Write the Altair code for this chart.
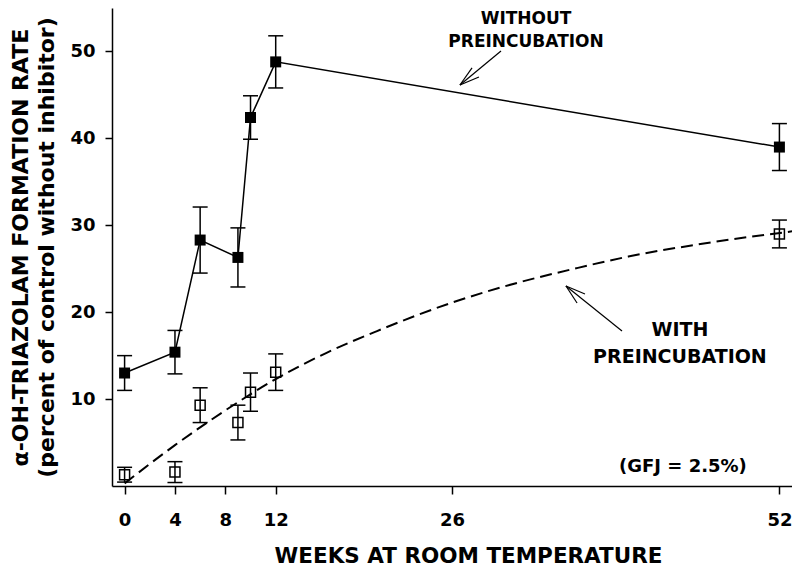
import altair as alt
import pandas as pd

# ---- data ----
weeks = [0, 4, 6, 9, 10, 12, 52]
without_mean = [13.0, 15.4, 28.3, 26.3, 42.4, 48.8, 39.0]
without_err = [2.0, 2.5, 3.8, 3.4, 2.5, 3.0, 2.7]
with_mean = [1.3, 1.6, 9.3, 7.3, 10.8, 13.1, 29.0]
with_err = [0.85, 1.2, 2.0, 2.0, 2.2, 2.1, 1.6]

# dashed fitted curve
curve_weeks = [0, 4, 8, 12, 16, 20, 26, 30, 36, 40, 46, 53]
curve_vals = [0.3, 4.7, 8.7, 12.3, 15.3, 17.8, 21.1, 22.9, 25.1, 26.4, 27.9, 29.3]

x_ticks = [0, 4, 8, 12, 26, 52]
y_ticks = [10, 20, 30, 40, 50]

# annotations (data coordinates)
label_text = ["WITHOUT", "PREINCUBATION", "WITH", "PREINCUBATION", "(GFJ = 2.5%)"]
label_wk = [31.88, 31.88, 44.10, 44.10, 44.34]
label_val = [53.7, 51.05, 17.95, 14.84, 2.19]
label_size = [17, 17, 19, 19, 18]

arrow_x1 = [29.89, 26.63, 26.63, 39.50, 35.05, 35.05]
arrow_y1 = [50.05, 46.14, 46.14, 17.83, 23.01, 23.01]
arrow_x2 = [26.63, 27.59, 28.14, 35.05, 36.56, 35.93]
arrow_y2 = [46.14, 48.10, 47.06, 23.01, 22.09, 21.06]

# ---- tables ----
df_without = pd.DataFrame({
    "wk": weeks, "v": without_mean,
    "lo": [m - e for m, e in zip(without_mean, without_err)],
    "hi": [m + e for m, e in zip(without_mean, without_err)],
})
df_with = pd.DataFrame({
    "wk": weeks, "v": with_mean,
    "lo": [m - e for m, e in zip(with_mean, with_err)],
    "hi": [m + e for m, e in zip(with_mean, with_err)],
})
df_caps = pd.DataFrame({
    "wk": weeks * 4,
    "v": list(df_without["lo"]) + list(df_without["hi"]) + list(df_with["lo"]) + list(df_with["hi"]),
})
df_curve = pd.DataFrame({"wk": curve_weeks, "v": curve_vals})
df_labels = pd.DataFrame({"wk": label_wk, "v": label_val, "t": label_text, "s": label_size})
df_arrows = pd.DataFrame({"x1": arrow_x1, "y1": arrow_y1, "x2": arrow_x2, "y2": arrow_y2})

xs = alt.Scale(domain=[-1, 53], nice=False, zero=False)
ys = alt.Scale(domain=[0, 55], nice=False, zero=False)

FONT = "DejaVu Sans"

x_axis = alt.Axis(
    values=x_ticks, title="WEEKS AT ROOM TEMPERATURE", tickSize=8, labelPadding=17,
    titleX=356, titleY=76, titleBaseline="alphabetic", titleFontSize=21.5,
)
y_axis = alt.Axis(
    values=y_ticks,
    title=["α-OH-TRIAZOLAM FORMATION RATE", "(percent of control without inhibitor)"],
    tickSize=7, labelPadding=10, titleX=-85, titleY=239, titleAngle=270,
    titleBaseline="alphabetic", titleLineHeight=26, titleFontSize=22,
)

X = alt.X("wk:Q", scale=xs, axis=x_axis)
Y = alt.Y("v:Q", scale=ys, axis=y_axis)
Xn = alt.X("wk:Q", scale=xs)
Yn = alt.Y("v:Q", scale=ys)

base_axes = alt.Chart(df_without).mark_line(color="black", strokeWidth=1.5).encode(x=X, y=Y)

curve = alt.Chart(df_curve).mark_line(
    color="black", strokeWidth=2, strokeDash=[12, 6], interpolate="monotone"
).encode(x=Xn, y=Yn)

err_without = alt.Chart(df_without).mark_rule(color="black", strokeWidth=1.5).encode(
    x=Xn, y=alt.Y("lo:Q", scale=ys), y2="hi:Q")
err_with = alt.Chart(df_with).mark_rule(color="black", strokeWidth=1.5).encode(
    x=Xn, y=alt.Y("lo:Q", scale=ys), y2="hi:Q")
caps = alt.Chart(df_caps).mark_tick(
    orient="horizontal", size=15, thickness=1.5, color="black", opacity=1
).encode(x=Xn, y=Yn)

pts_without = alt.Chart(df_without).mark_point(
    shape="square", filled=True, size=121, color="black", opacity=1
).encode(x=Xn, y=Yn)
pts_with = alt.Chart(df_with).mark_point(
    shape="square", filled=False, size=100, color="black", strokeWidth=1.5, opacity=1
).encode(x=Xn, y=Yn)

arrows = alt.Chart(df_arrows).mark_rule(color="black", strokeWidth=1.2).encode(
    x=alt.X("x1:Q", scale=xs), y=alt.Y("y1:Q", scale=ys), x2="x2:Q", y2="y2:Q")

labels = alt.Chart(df_labels).mark_text(
    font=FONT, fontWeight="bold", color="black", align="center", baseline="middle"
).encode(x=Xn, y=Yn, text="t:N", size=alt.Size("s:Q", scale=None))

chart = alt.layer(
    base_axes, curve, err_without, err_with, caps, pts_without, pts_with, arrows, labels
).properties(
    width=680, height=478,
    autosize=alt.AutoSizeParams(type="none"),
    padding={"left": 104, "top": 0, "right": 0, "bottom": 80},
).configure_view(stroke=None).configure_axis(
    grid=False, domainColor="black", domainWidth=1.5, tickColor="black", tickWidth=1.5,
    labelFont=FONT, labelFontWeight="bold", labelFontSize=18, labelColor="black",
    titleFont=FONT, titleFontWeight="bold", titleColor="black",
)

chart.save("out.html", embed_options={"renderer": "svg", "actions": False})
